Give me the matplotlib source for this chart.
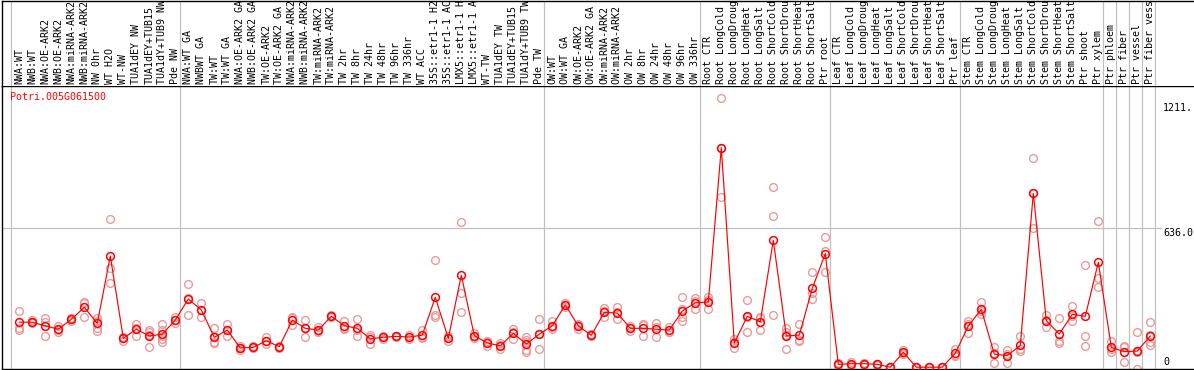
import matplotlib
matplotlib.use("Agg")
import matplotlib.pyplot as plt

gene = "Potri.005G061500"

group_sizes = [13, 28, 12, 10, 10, 11, 1, 1, 1, 1]

labels = [
    "NWA:WT", "NWB:WT", "NWA:OE-ARK2", "NWB:OE-ARK2", "NWA:miRNA-ARK2", "NWB:miRNA-ARK2",
    "NW 0hr", "WT H2O", "WT-NW", "TUA1dEY NW", "TUA1dEY+TUB15", "TUA1dY+TUB9 NW", "Pde NW",
    "NWA:WT GA", "NWBWT GA", "TW:WT", "TW:WT GA", "NWA:OE-ARK2 GA", "NWB:OE-ARK2 GA",
    "TW:OE-ARK2", "TW:OE-ARK2 GA", "NWA:miRNA-ARK2 GA", "NWB:miRNA-ARK2 GA", "TW:miRNA-ARK2",
    "TW:miRNA-ARK2 GA", "TW 2hr", "TW 8hr", "TW 24hr", "TW 48hr", "TW 96hr", "TW 336hr", "WT ACC",
    "35S::etr1-1 H2O", "35S::etr1-1 ACC", "LMX5::etr1-1 H2O", "LMX5::etr1-1 ACC", "WT-TW",
    "TUA1dEY TW", "TUA1dEY+TUB15 TW", "TUA1dY+TUB9 TW", "Pde TW",
    "OW:WT", "OW:WT GA", "OW:OE-ARK2", "OW:OE-ARK2 GA", "OW:miRNA-ARK2", "OW:miRNA-ARK2 GA",
    "OW 2hr", "OW 8hr", "OW 24hr", "OW 48hr", "OW 96hr", "OW 336hr",
    "Root CTR", "Root LongCold", "Root LongDrought", "Root LongHeat", "Root LongSalt",
    "Root ShortCold", "Root ShortDrought", "Root ShortHeat", "Root ShortSalt", "Ptr root",
    "Leaf CTR", "Leaf LongCold", "Leaf LongDrought", "Leaf LongHeat", "Leaf LongSalt",
    "Leaf ShortCold", "Leaf ShortDrought", "Leaf ShortHeat", "Leaf ShortSalt", "Ptr leaf",
    "Stem CTR", "Stem LongCold", "Stem LongDrought", "Stem LongHeat", "Stem LongSalt",
    "Stem ShortCold", "Stem ShortDrought", "Stem ShortHeat", "Stem ShortSalt", "Ptr shoot",
    "Ptr xylem", "Ptr phloem", "Ptr fiber", "Ptr vessel", "Ptr fiber vessel",
]

means = [
    206, 206, 189, 174, 219, 274, 201, 509, 132, 174, 143, 151, 216,
    312, 262, 137, 170, 88, 91, 121, 94, 216, 178, 170, 233, 190, 178, 130, 137, 141, 138,
    147, 320, 132, 421, 144, 111, 98, 155, 106, 151,
    190, 285, 189, 146, 251, 248, 178, 178, 174, 170, 257, 295,
    298, 1005, 111, 233, 208, 581, 143, 147, 361, 520,
    13, 16, 16, 13, 0, 68, 0, 0, 0, 64,
    189, 265, 60, 53, 100, 796, 213, 152, 242, 233, 480,
    91, 71, 74, 143,
]

replicates = [
    [257, 178, 170], [216, 201, 206], [225, 208, 141], [189, 163, 170], [210, 225, 219],
    [300, 293, 228], [225, 211, 181, 167], [677, 456, 387], [140, 121, 135], [198, 143, 181],
    [170, 163, 92, 147], [198, 170, 128, 117, 143], [228, 204, 216],
    [380, 238, 318], [295, 231, 260], [178, 117, 109, 144], [198, 143, 170], [98, 79, 88],
    [95, 87, 91], [140, 106, 118], [99, 89, 94], [231, 193, 224], [216, 138, 180],
    [185, 160, 165], [228, 238, 233], [213, 176, 181], [221, 143, 170], [147, 105, 138],
    [143, 131, 137], [143, 139, 141], [147, 128, 139], [172, 132, 137], [489, 239, 228],
    [143, 121, 132], [663, 338, 251], [155, 132, 145], [98, 115, 120], [109, 85, 100],
    [174, 130, 161], [140, 125, 79, 71, 115], [219, 82, 152],
    [213, 174, 183], [295, 276, 284], [198, 174, 195], [146, 141, 151], [270, 228, 255],
    [274, 219, 251], [190, 166, 178], [198, 144, 192], [201, 138, 183], [185, 163, 162],
    [320, 228, 213, 267], [315, 266, 304],
    [323, 265, 306], [1231, 1003, 781], [130, 89, 114], [308, 163, 228], [225, 169, 230],
    [824, 691, 238], [178, 163, 82, 149], [196, 119, 126], [434, 338, 311], [595, 533, 434],
    [8, 18, 13], [25, 12, 11], [20, 14, 14], [15, 11, 13], [0, 0, 0], [79, 60, 65],
    [0, 0, 0], [0, 0, 0], [0, 0, 0], [83, 53, 56],
    [213, 155, 199], [297, 242, 256], [94, 21, 65], [79, 21, 59], [143, 82, 75],
    [956, 796, 636], [239, 185, 215], [225, 109, 122], [280, 210, 236], [466, 143, 97],
    [669, 407, 366],
    [119, 71, 83], [98, 22, 93], [160, -8, 70], [206, 117, 102, 147],
]

scale_labels = ["1211.", "636.0", "0"]
scale_values = [1211, 636, 0]

# ---------------------------------------------------------------- layout
W, H = 1194, 370
fig = plt.figure(figsize=(W / 100, H / 100), dpi=100)
fig.patch.set_facecolor("white")

x0_px, x1_px = 1.5, 1194.0
plot_top_px, plot_bot_px = 86.0, 369.0
first_px, step_px = 19.3, 13.0
xlim = ((x0_px - first_px) / step_px, (x1_px - first_px) / step_px)
zero_px, per_px = 367.2, 4.578
ylim = ((zero_px - plot_bot_px) * per_px, (zero_px - plot_top_px) * per_px)

ax = fig.add_axes([x0_px / W, (H - plot_bot_px) / H, (x1_px - x0_px) / W,
                   (plot_bot_px - plot_top_px) / H])
axl = fig.add_axes([x0_px / W, (H - plot_top_px) / H, (x1_px - x0_px) / W,
                    (plot_top_px - 0.5) / H])

for a in (ax, axl):
    a.set_xlim(*xlim)
    a.set_xticks([])
    a.set_yticks([])
    a.set_facecolor("white")
    for s in a.spines.values():
        s.set_color("black")
        s.set_linewidth(1.0)
    a.spines["right"].set_visible(False)
ax.set_ylim(*ylim)
axl.set_ylim(0, 1)
axl.spines["bottom"].set_visible(False)

grid_col = "#c0c0c0"
starts = []
pos = 0
for g in group_sizes:
    starts.append(pos - 0.64)
    pos += g
starts.append(pos - 0.64)
for s in starts:
    ax.axvline(s, color=grid_col, lw=0.9, zorder=0)
    axl.axvline(s, color=grid_col, lw=0.9, zorder=0)

line_end = (1161 - x0_px) / (x1_px - x0_px)
ax.axhline(636, xmin=0, xmax=line_end, color=grid_col, lw=0.9, zorder=0)

xs = list(range(len(means)))
rx, ry = [], []
for i, reps in enumerate(replicates):
    for r in reps:
        rx.append(i)
        ry.append(r)
ax.plot(rx, ry, linestyle="none", marker="o", ms=5.6, mfc="none", mec="#eb9a9a",
        mew=1.0, zorder=2, clip_on=True)
ax.plot(xs, means, color="red", lw=0.85, zorder=3)
ax.plot(xs, means, linestyle="none", marker="o", ms=5.6, mfc="none", mec="red",
        mew=1.1, zorder=4)

mono = "DejaVu Sans Mono"
for i, lab in enumerate(labels):
    axl.text(i, 2.0 / plot_top_px, lab, rotation=90, ha="center", va="bottom",
             fontsize=7.2, family=mono, color="black", clip_on=True)

ax.text((10 - x0_px) / (x1_px - x0_px), 1 - (97 - plot_top_px) / (plot_bot_px - plot_top_px),
        gene, transform=ax.transAxes, ha="left", va="center", fontsize=7.2,
        family=mono, color="red")

lab_x = (1163 - x0_px) / (x1_px - x0_px)
for lab, v in zip(scale_labels, scale_values):
    ax.text(lab_x, v, lab, transform=ax.get_yaxis_transform(), ha="left",
            va="bottom" if v == 0 else "top", fontsize=7.2, family=mono, color="black",
            clip_on=False)

fig.savefig("out.png", dpi=100, facecolor="white")
